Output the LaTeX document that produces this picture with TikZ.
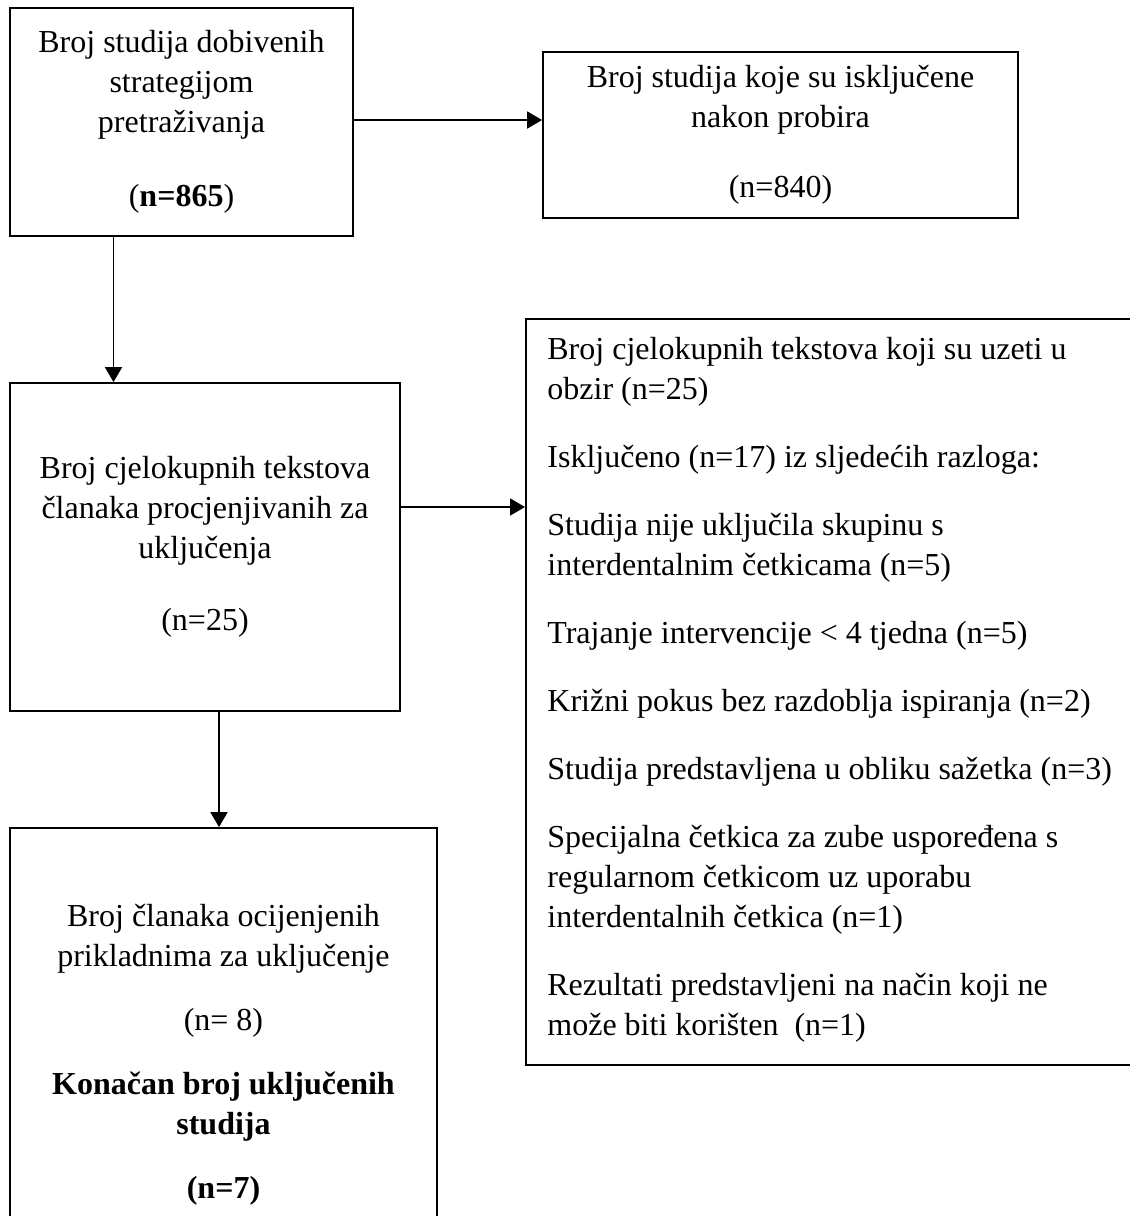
\documentclass[tikz,border=0pt]{standalone}
\usepackage{fontspec}
\setmainfont{Liberation Serif}
\usetikzlibrary{arrows.meta}

\begin{document}
\begin{tikzpicture}[x=0.5pt, y=-0.5pt,
    box/.style={draw, line width=0.9pt, align=center, inner sep=0pt,
      font=\fontsize{16}{20}\selectfont},
    arr/.style={line width=0.9pt, -{Triangle[length=7.5pt, width=8.5pt]}}]
  \useasboundingbox (0, 0) rectangle (1130, 1216);
  \node[box, minimum width=171.5pt, minimum height=114pt] (search) at (181.5, 122)
    {Broj studija dobivenih\\ strategijom\\ pretraživanja\\[17pt] (\textbf{n=865})};
  \node[box, minimum width=237.5pt, minimum height=83pt] (screened) at (780.5, 135)
    {Broj studija koje su isključene\\ nakon probira\\[15pt] (n=840)};
  \node[box, minimum width=195pt, minimum height=164pt] (fulltext) at (205, 547)
    {Broj cjelokupnih tekstova\\ članaka procjenjivanih za\\ uključenja\\[16pt] (n=25)};
  \node[box, anchor=north west, minimum width=307.5pt, minimum height=373pt] (excluded) at (525, 318) {};
  \node[anchor=north west, align=left, inner sep=0pt, font=\fontsize{16}{20}\selectfont] (reasons) at (547, 337)
    {Broj cjelokupnih tekstova koji su uzeti u\\ obzir (n=25)\\[14pt]
     Isključeno (n=17) iz sljedećih razloga:\\[14pt]
     Studija nije uključila skupinu s\\ interdentalnim četkicama (n=5)\\[14pt]
     Trajanje intervencije < 4 tjedna (n=5)\\[14pt]
     Križni pokus bez razdoblja ispiranja (n=2)\\[14pt]
     Studija predstavljena u obliku sažetka (n=3)\\[14pt]
     Specijalna četkica za zube uspoređena s\\ regularnom četkicom uz uporabu\\ interdentalnih četkica (n=1)\\[14pt]
     Rezultati predstavljeni na način koji ne\\ može biti korišten\ \ (n=1)};
  \node[box, minimum width=213.5pt, minimum height=227pt] (included) at (223.5, 1055)
    {Broj članaka ocijenjenih\\ prikladnima za uključenje\\[12pt] (n= 8)\\[12pt]
     \textbf{Konačan broj uključenih}\\ \textbf{studija}\\[12pt] \textbf{(n=7)}};
  \draw[arr] ([yshift=1pt]search.east) -- ([yshift=1pt]search.east -| screened.west);
  \draw[arr] ([xshift=-34pt]search.south) -- ([xshift=-34pt]search.south |- fulltext.north);
  \draw[arr] ([yshift=20pt]fulltext.east) -- ([yshift=20pt]fulltext.east -| excluded.west);
  \draw[arr] ([xshift=7pt]fulltext.south) -- ([xshift=7pt]fulltext.south |- included.north);
\end{tikzpicture}
\end{document}
